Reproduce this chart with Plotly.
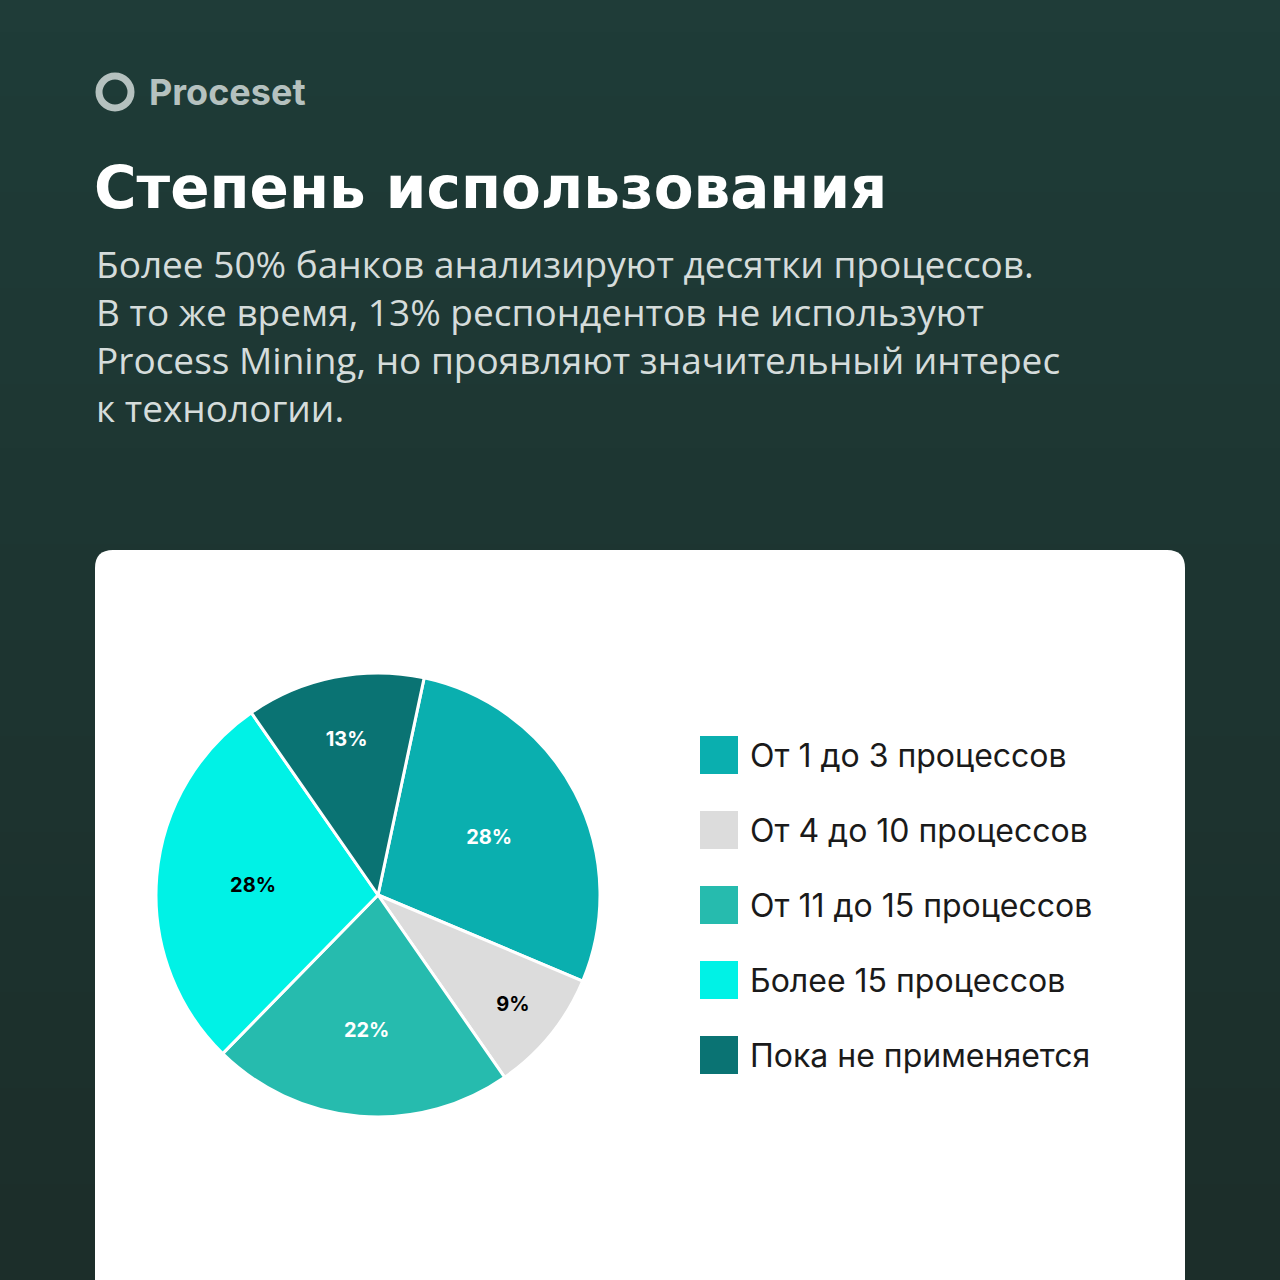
import plotly.graph_objects as go

labels = ["От 1 до 3 процессов", "От 4 до 10 процессов", "От 11 до 15 процессов",
          "Более 15 процессов", "Пока не применяется"]
values = [28, 9, 22, 28, 13]
colors = ["#0AAFAF", "#DCDCDC", "#26BBAE", "#00F2E6", "#0A7373"]
text_colors = ["white", "black", "white", "black", "white"]

W = H = 1280
def px(x): return x / W
def py(y): return 1 - y / H

fig = go.Figure()
fig.add_trace(go.Pie(
    labels=labels, values=values, sort=False, direction="clockwise", rotation=12,
    marker=dict(colors=colors, line=dict(color="white", width=3)),
    texttemplate="%{value}%", textposition="inside", insidetextorientation="horizontal",
    textfont=dict(family="Inter", size=20, color=text_colors, weight="bold"),
    domain=dict(x=[px(156), px(600)], y=[py(1117), py(673)]),
    showlegend=False, hoverinfo="label+value",
))

shapes = []
# background gradient bands
top, bottom = (31, 60, 56), (28, 46, 42)
n = 40
for i in range(n):
    t = i / (n - 1)
    c = tuple(int(top[k] + (bottom[k] - top[k]) * t) for k in range(3))
    shapes.append(dict(type="rect", xref="paper", yref="paper", x0=0, x1=1,
                       y0=1 - (i + 1) / n, y1=1 - i / n, line_width=0,
                       fillcolor=f"rgb{c}", layer="below"))
# white card with rounded top corners
x0, x1, y0, y1, r = px(95), px(1185), py(1290), py(550), 18 / W
shapes.append(dict(type="path", xref="paper", yref="paper", layer="below", line_width=0,
                   fillcolor="white",
                   path=f"M {x0},{y0} L {x0},{y1 - r} Q {x0},{y1} {x0 + r},{y1} "
                        f"L {x1 - r},{y1} Q {x1},{y1} {x1},{y1 - r} L {x1},{y0} Z"))
# logo ring
shapes.append(dict(type="circle", xref="paper", yref="paper", x0=px(99), x1=px(131),
                   y0=py(108), y1=py(76), line=dict(color="#b5c1bf", width=7)))

annotations = [
    dict(x=px(147), y=py(92), text="<b>Proceset</b>", xanchor="left", yanchor="middle",
         font=dict(family="Inter", size=36, color="#b5c1bf")),
    dict(x=px(92), y=py(188), text="<b>Степень использования</b>", xanchor="left", yanchor="middle",
         font=dict(family="DejaVu Sans", size=58, color="white")),
    dict(x=px(94), y=py(236), yanchor="top", xanchor="left", align="left",
         text="Более 50% банков анализируют десятки процессов.<br>"
              "В то же время, 13% респондентов не используют<br>"
              "Process Mining, но проявляют значительный интерес<br>"
              "к технологии.",
         font=dict(family="Open Sans", size=37, color="#d5dcdb")),
]

for i, (lab, col) in enumerate(zip(labels, colors)):
    yc = 755 + 75 * i
    shapes.append(dict(type="rect", xref="paper", yref="paper", x0=px(700), x1=px(738),
                       y0=py(yc + 19), y1=py(yc - 19), fillcolor=col, line_width=0))
    annotations.append(dict(x=px(748), y=py(yc), text=lab, xanchor="left", yanchor="middle",
                            font=dict(family="Inter", size=32, color="#1a1a1a")))

for a in annotations:
    a["showarrow"] = False

fig.update_layout(width=W, height=H, margin=dict(l=0, r=0, t=0, b=0),
                  paper_bgcolor="#1e3834", shapes=shapes, annotations=annotations)
fig.write_html("out.html", config={"displayModeBar": False})

with open("out.html", encoding="utf-8") as f:
    page = f.read()
page = page.replace("<body>", '<body style="margin:0;overflow:hidden">', 1)
with open("out.html", "w", encoding="utf-8") as f:
    f.write(page)
